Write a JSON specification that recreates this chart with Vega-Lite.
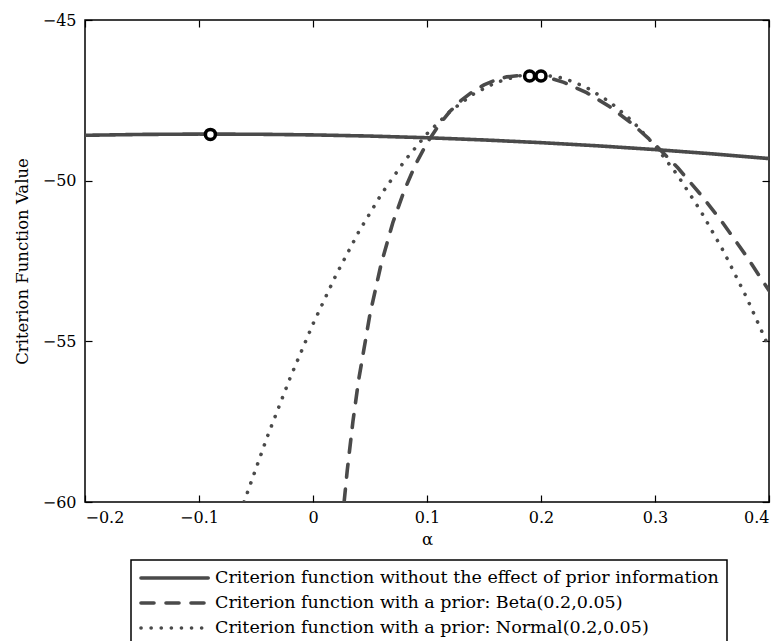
{
  "$schema": "https://vega.github.io/schema/vega-lite/v6.json",
  "width": 684,
  "height": 482,
  "autosize": {"type": "none"},
  "padding": {"left": 85, "top": 20, "right": 13, "bottom": 139},
  "background": "white",
  "config": {
    "view": {"stroke": "black", "strokeWidth": 1.5},
    "font": "DejaVu Serif",
    "axis": {
      "grid": false,
      "domain": false,
      "tickColor": "black",
      "tickWidth": 1.2,
      "tickSize": -7,
      "labelColor": "black",
      "labelFont": "DejaVu Serif",
      "labelFontSize": 16,
      "titleFont": "DejaVu Serif",
      "titleFontSize": 16.5,
      "titleFontWeight": "normal",
      "titleColor": "black"
    }
  },
  "datasets": {
    "curves": [
      {"series": "Criterion function without the effect of prior information", "alpha": -0.2, "value": -48.588},
      {"series": "Criterion function without the effect of prior information", "alpha": -0.15, "value": -48.561},
      {"series": "Criterion function without the effect of prior information", "alpha": -0.1, "value": -48.55},
      {"series": "Criterion function without the effect of prior information", "alpha": -0.05, "value": -48.555},
      {"series": "Criterion function without the effect of prior information", "alpha": 0, "value": -48.576},
      {"series": "Criterion function without the effect of prior information", "alpha": 0.05, "value": -48.612},
      {"series": "Criterion function without the effect of prior information", "alpha": 0.1, "value": -48.664},
      {"series": "Criterion function without the effect of prior information", "alpha": 0.15, "value": -48.733},
      {"series": "Criterion function without the effect of prior information", "alpha": 0.2, "value": -48.817},
      {"series": "Criterion function without the effect of prior information", "alpha": 0.25, "value": -48.916},
      {"series": "Criterion function without the effect of prior information", "alpha": 0.3, "value": -49.032},
      {"series": "Criterion function without the effect of prior information", "alpha": 0.35, "value": -49.164},
      {"series": "Criterion function without the effect of prior information", "alpha": 0.4, "value": -49.312},

      {"series": "Criterion function with a prior: Beta(0.2,0.05)", "alpha": 0.0273, "value": -60.0},
      {"series": "Criterion function with a prior: Beta(0.2,0.05)", "alpha": 0.03, "value": -59.03},
      {"series": "Criterion function with a prior: Beta(0.2,0.05)", "alpha": 0.035, "value": -57.5},
      {"series": "Criterion function with a prior: Beta(0.2,0.05)", "alpha": 0.04, "value": -56.21},
      {"series": "Criterion function with a prior: Beta(0.2,0.05)", "alpha": 0.05, "value": -54.15},
      {"series": "Criterion function with a prior: Beta(0.2,0.05)", "alpha": 0.06, "value": -52.56},
      {"series": "Criterion function with a prior: Beta(0.2,0.05)", "alpha": 0.07, "value": -51.31},
      {"series": "Criterion function with a prior: Beta(0.2,0.05)", "alpha": 0.08, "value": -50.31},
      {"series": "Criterion function with a prior: Beta(0.2,0.05)", "alpha": 0.09, "value": -49.49},
      {"series": "Criterion function with a prior: Beta(0.2,0.05)", "alpha": 0.1, "value": -48.83},
      {"series": "Criterion function with a prior: Beta(0.2,0.05)", "alpha": 0.11, "value": -48.29},
      {"series": "Criterion function with a prior: Beta(0.2,0.05)", "alpha": 0.12, "value": -47.85},
      {"series": "Criterion function with a prior: Beta(0.2,0.05)", "alpha": 0.13, "value": -47.5},
      {"series": "Criterion function with a prior: Beta(0.2,0.05)", "alpha": 0.14, "value": -47.23},
      {"series": "Criterion function with a prior: Beta(0.2,0.05)", "alpha": 0.15, "value": -47.02},
      {"series": "Criterion function with a prior: Beta(0.2,0.05)", "alpha": 0.16, "value": -46.87},
      {"series": "Criterion function with a prior: Beta(0.2,0.05)", "alpha": 0.17, "value": -46.77},
      {"series": "Criterion function with a prior: Beta(0.2,0.05)", "alpha": 0.18, "value": -46.73},
      {"series": "Criterion function with a prior: Beta(0.2,0.05)", "alpha": 0.19, "value": -46.72},
      {"series": "Criterion function with a prior: Beta(0.2,0.05)", "alpha": 0.2, "value": -46.76},
      {"series": "Criterion function with a prior: Beta(0.2,0.05)", "alpha": 0.21, "value": -46.83},
      {"series": "Criterion function with a prior: Beta(0.2,0.05)", "alpha": 0.22, "value": -46.94},
      {"series": "Criterion function with a prior: Beta(0.2,0.05)", "alpha": 0.24, "value": -47.26},
      {"series": "Criterion function with a prior: Beta(0.2,0.05)", "alpha": 0.26, "value": -47.69},
      {"series": "Criterion function with a prior: Beta(0.2,0.05)", "alpha": 0.28, "value": -48.23},
      {"series": "Criterion function with a prior: Beta(0.2,0.05)", "alpha": 0.3, "value": -48.87},
      {"series": "Criterion function with a prior: Beta(0.2,0.05)", "alpha": 0.32, "value": -49.6},
      {"series": "Criterion function with a prior: Beta(0.2,0.05)", "alpha": 0.34, "value": -50.43},
      {"series": "Criterion function with a prior: Beta(0.2,0.05)", "alpha": 0.36, "value": -51.34},
      {"series": "Criterion function with a prior: Beta(0.2,0.05)", "alpha": 0.38, "value": -52.34},
      {"series": "Criterion function with a prior: Beta(0.2,0.05)", "alpha": 0.4, "value": -53.42},

      {"series": "Criterion function with a prior: Normal(0.2,0.05)", "alpha": -0.0605, "value": -60.0},
      {"series": "Criterion function with a prior: Normal(0.2,0.05)", "alpha": -0.04, "value": -57.96},
      {"series": "Criterion function with a prior: Normal(0.2,0.05)", "alpha": -0.02, "value": -56.13},
      {"series": "Criterion function with a prior: Normal(0.2,0.05)", "alpha": 0, "value": -54.46},
      {"series": "Criterion function with a prior: Normal(0.2,0.05)", "alpha": 0.02, "value": -52.95},
      {"series": "Criterion function with a prior: Normal(0.2,0.05)", "alpha": 0.04, "value": -51.6},
      {"series": "Criterion function with a prior: Normal(0.2,0.05)", "alpha": 0.06, "value": -50.42},
      {"series": "Criterion function with a prior: Normal(0.2,0.05)", "alpha": 0.08, "value": -49.4},
      {"series": "Criterion function with a prior: Normal(0.2,0.05)", "alpha": 0.1, "value": -48.54},
      {"series": "Criterion function with a prior: Normal(0.2,0.05)", "alpha": 0.12, "value": -47.85},
      {"series": "Criterion function with a prior: Normal(0.2,0.05)", "alpha": 0.14, "value": -47.32},
      {"series": "Criterion function with a prior: Normal(0.2,0.05)", "alpha": 0.16, "value": -46.95},
      {"series": "Criterion function with a prior: Normal(0.2,0.05)", "alpha": 0.18, "value": -46.74},
      {"series": "Criterion function with a prior: Normal(0.2,0.05)", "alpha": 0.19, "value": -46.7},
      {"series": "Criterion function with a prior: Normal(0.2,0.05)", "alpha": 0.2, "value": -46.7},
      {"series": "Criterion function with a prior: Normal(0.2,0.05)", "alpha": 0.22, "value": -46.81},
      {"series": "Criterion function with a prior: Normal(0.2,0.05)", "alpha": 0.24, "value": -47.1},
      {"series": "Criterion function with a prior: Normal(0.2,0.05)", "alpha": 0.26, "value": -47.54},
      {"series": "Criterion function with a prior: Normal(0.2,0.05)", "alpha": 0.28, "value": -48.14},
      {"series": "Criterion function with a prior: Normal(0.2,0.05)", "alpha": 0.3, "value": -48.91},
      {"series": "Criterion function with a prior: Normal(0.2,0.05)", "alpha": 0.32, "value": -49.84},
      {"series": "Criterion function with a prior: Normal(0.2,0.05)", "alpha": 0.34, "value": -50.94},
      {"series": "Criterion function with a prior: Normal(0.2,0.05)", "alpha": 0.36, "value": -52.19},
      {"series": "Criterion function with a prior: Normal(0.2,0.05)", "alpha": 0.38, "value": -53.61},
      {"series": "Criterion function with a prior: Normal(0.2,0.05)", "alpha": 0.4, "value": -55.19}
    ],
    "maxima": [
      {"alpha": -0.09, "value": -48.56},
      {"alpha": 0.2, "value": -46.74},
      {"alpha": 0.19, "value": -46.74}
    ]
  },
  "layer": [
    {
      "data": {"name": "curves"},
      "mark": {"type": "line", "color": "#4a4a4a", "strokeWidth": 3.6, "strokeCap": "round", "clip": true},
      "encoding": {
        "x": {
          "field": "alpha", "type": "quantitative",
          "scale": {"domain": [-0.2, 0.4], "nice": false, "zero": false},
          "axis": {"orient": "bottom", "values": [-0.2, -0.1, 0, 0.1, 0.2, 0.3, 0.4], "format": "~g", "labelPadding": 14, "title": "α", "titlePadding": 6}
        },
        "y": {
          "field": "value", "type": "quantitative",
          "scale": {"domain": [-60, -45], "nice": false, "zero": false},
          "axis": {"orient": "left", "values": [-60, -55, -50, -45], "labelPadding": 16, "title": "Criterion Function Value", "titlePadding": 12}
        },
        "strokeDash": {
          "field": "series", "type": "nominal",
          "scale": {
            "domain": ["Criterion function without the effect of prior information", "Criterion function with a prior: Beta(0.2,0.05)", "Criterion function with a prior: Normal(0.2,0.05)"],
            "range": [[1, 0], [13, 12], [0.1, 10]]
          },
          "legend": {
            "orient": "none",
            "direction": "vertical",
            "columns": 1,
            "legendX": 46,
            "legendY": 540,
            "title": null,
            "symbolType": "M-1,0H7.4",
            "symbolSize": 256,
            "symbolStrokeWidth": 3.6,
            "symbolStrokeColor": "#4a4a4a",
            "labelOffset": 56,
            "labelFont": "DejaVu Serif",
            "labelFontSize": 17.5,
            "labelColor": "black",
            "labelLimit": 512,
            "rowPadding": 6,
            "padding": 8,
            "strokeColor": "black",
            "fillColor": "white",
            "encode": {
              "symbols": {"update": {"strokeCap": {"value": "round"}}},
              "legend": {"update": {"strokeWidth": {"value": 1.5}}}
            }
          }
        }
      }
    },
    {
      "data": {"name": "maxima"},
      "mark": {"type": "point", "shape": "circle", "filled": false, "fill": "white", "fillOpacity": 1, "stroke": "black", "strokeWidth": 3.5, "size": 100, "opacity": 1, "clip": true},
      "encoding": {
        "x": {
          "field": "alpha", "type": "quantitative",
          "axis": {"orient": "top", "values": [-0.2, -0.1, 0, 0.1, 0.2, 0.3, 0.4], "labels": false, "title": null}
        },
        "y": {
          "field": "value", "type": "quantitative",
          "axis": {"orient": "right", "values": [-60, -55, -50, -45], "labels": false, "title": null}
        }
      }
    }
  ],
  "resolve": {"axis": {"x": "independent", "y": "independent"}}
}
